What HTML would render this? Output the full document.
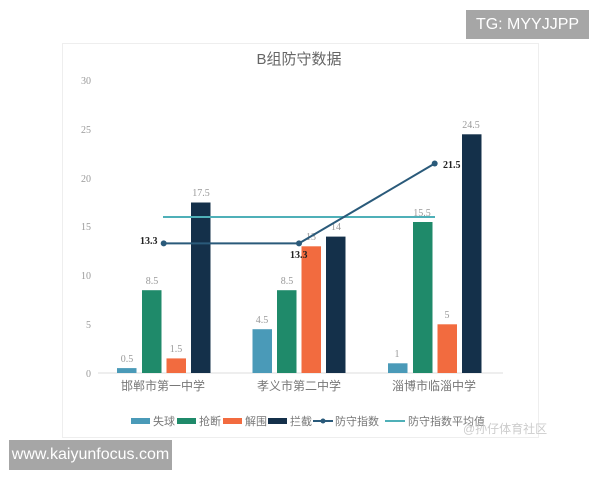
<!DOCTYPE html>
<html><head><meta charset="utf-8"><style>
body{margin:0;width:600px;height:480px;background:#fff;overflow:hidden;position:relative;font-family:"Liberation Sans","Noto Sans CJK SC",sans-serif}
.box{position:absolute;left:62px;top:43px;width:475px;height:393px;border:1px solid #eee;background:#fff}
.wm{position:absolute;background:#a6a6a6;color:#fff;font-size:16px;display:flex;align-items:center;justify-content:center}
</style></head><body>
<div class="box"></div>
<svg width="600" height="480" style="position:absolute;left:0;top:0" font-family="Liberation Serif, Noto Serif CJK SC, serif">
<text x="299" y="64" text-anchor="middle" font-size="15" fill="#666" font-family="Liberation Sans, Noto Sans CJK SC, sans-serif">B组防守数据</text>
<g font-size="10" fill="#999" text-anchor="end">
<text x="91" y="84">30</text><text x="91" y="133">25</text><text x="91" y="182">20</text>
<text x="91" y="230">15</text><text x="91" y="279">10</text><text x="91" y="328">5</text><text x="91" y="377">0</text></g>
<line x1="98" y1="373" x2="503" y2="373" stroke="#ddd"/>
<g>
<rect x="117" y="368.1" width="19.5" height="4.9" fill="#4a9ab8"/>
<rect x="142" y="290.2" width="19.5" height="82.8" fill="#1f8a6a"/>
<rect x="166.5" y="358.4" width="19.5" height="14.6" fill="#f26b3f"/>
<rect x="191" y="202.5" width="19.5" height="170.5" fill="#14304a"/>
<rect x="252.5" y="329.2" width="19.5" height="43.8" fill="#4a9ab8"/>
<rect x="277" y="290.2" width="19.5" height="82.8" fill="#1f8a6a"/>
<rect x="301.5" y="246.3" width="19.5" height="126.7" fill="#f26b3f"/>
<rect x="326" y="236.6" width="19.5" height="136.4" fill="#14304a"/>
<rect x="388" y="363.3" width="19.5" height="9.7" fill="#4a9ab8"/>
<rect x="413" y="222" width="19.5" height="151" fill="#1f8a6a"/>
<rect x="437.5" y="324.3" width="19.5" height="48.7" fill="#f26b3f"/>
<rect x="462" y="134.3" width="19.5" height="238.7" fill="#14304a"/>
</g>
<g font-size="10" fill="#999" text-anchor="middle">
<text x="127" y="362">0.5</text><text x="152" y="284">8.5</text><text x="176" y="352">1.5</text><text x="201" y="196">17.5</text>
<text x="262" y="323">4.5</text><text x="287" y="284">8.5</text><text x="311" y="240">13</text><text x="336" y="230">14</text>
<text x="397" y="357">1</text><text x="422" y="216">15.5</text><text x="447" y="318">5</text><text x="471" y="128">24.5</text></g>
<line x1="163" y1="217" x2="435" y2="217" stroke="#4fb0b8" stroke-width="2"/>
<polyline points="163.7,243.4 299,243.4 434.7,163.5" fill="none" stroke="#2a5a7a" stroke-width="2"/>
<g fill="#2a5a7a"><circle cx="163.7" cy="243.4" r="3"/><circle cx="299" cy="243.4" r="3"/><circle cx="434.7" cy="163.5" r="3"/></g>
<g font-size="10" font-weight="bold" fill="#222">
<text x="140" y="244">13.3</text><text x="290" y="258">13.3</text><text x="443" y="168">21.5</text></g>
<g font-size="12" fill="#777" text-anchor="middle" font-family="Liberation Sans, Noto Sans CJK SC, sans-serif">
<text x="163" y="390">邯郸市第一中学</text><text x="299" y="390">孝义市第二中学</text><text x="434" y="390">淄博市临淄中学</text></g>
<g font-size="11" fill="#777" font-family="Liberation Sans, Noto Sans CJK SC, sans-serif">
<rect x="131" y="418" width="19" height="6" fill="#4a9ab8"/><text x="153" y="425">失球</text>
<rect x="177" y="418" width="19" height="6" fill="#1f8a6a"/><text x="199" y="425">抢断</text>
<rect x="223" y="418" width="19" height="6" fill="#f26b3f"/><text x="245" y="425">解围</text>
<rect x="268" y="418" width="19" height="6" fill="#14304a"/><text x="290" y="425">拦截</text>
<line x1="313" y1="421" x2="333" y2="421" stroke="#2a5a7a" stroke-width="2"/><circle cx="323" cy="421" r="2.5" fill="#2a5a7a"/><text x="335" y="425">防守指数</text>
<line x1="385" y1="421" x2="405" y2="421" stroke="#4fb0b8" stroke-width="2"/><text x="408" y="425">防守指数平均值</text>
<text x="463" y="433" fill="#ccc" font-size="12">@孙仔体育社区</text></g>
</svg>
<div class="wm" style="left:466px;top:10px;width:123px;height:29px">TG: MYYJJPP</div>
<div class="wm" style="left:9px;top:440px;width:163px;height:30px">www.kaiyunfocus.com</div>
</body></html>
